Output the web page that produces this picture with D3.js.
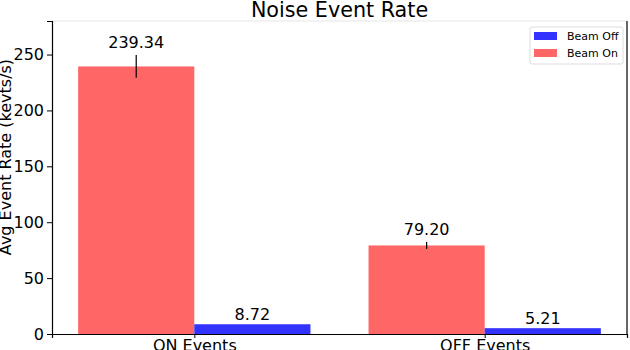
<!DOCTYPE html>
<html>
<head>
<meta charset="utf-8">
<script src="https://cdn.jsdelivr.net/npm/d3@7"></script>
<style>
	body { margin: 0; background: #fff; }
	svg { display: block; font-family: "DejaVu Sans", sans-serif; }
</style>
</head>
<body>
<svg id="chart" width="630" height="350"></svg>
<script>
// Datos
var categories = ["ON Events", "OFF Events"];
var beamOn = [239.34, 79.20];
var beamOnErr = [10.2, 3.1];
var beamOff = [8.72, 5.21];
var beamOffErr = [0, 0];
var yTicks = [0, 50, 100, 150, 200, 250];

var width = 630,
	height = 350,
	margin = { top: 21, right: 3, bottom: 16, left: 52 },
	innerW = width - margin.left - margin.right,
	innerH = height - margin.top - margin.bottom,
	barW = 0.4;

var svg = d3.select("#chart");
var g = svg.append("g")
	.attr("transform", "translate(" + margin.left + "," + margin.top + ")");

var x = d3.scaleLinear().domain([-0.49, 1.49]).range([0, innerW]);
var y = d3.scaleLinear().domain([0, 280]).range([innerH, 0]);

var series = [
	{ name: "Beam On", color: "#ff6666", values: beamOn, err: beamOnErr, offset: -barW },
	{ name: "Beam Off", color: "#3333ff", values: beamOff, err: beamOffErr, offset: 0 }
];

// barras
series.forEach(function(s) {
	var grp = g.append("g");

	grp.selectAll("rect")
		.data(s.values)
		.enter().append("rect")
		.attr("x", function(d, i) { return x(i + s.offset); })
		.attr("width", x(barW) - x(0))
		.attr("y", function(d) { return y(d); })
		.attr("height", function(d) { return y(0) - y(d); })
		.attr("fill", s.color);

	grp.selectAll("line.err")
		.data(s.values)
		.enter().filter(function(d, i) { return s.err[i] > 0; })
		.append("line")
		.attr("class", "err")
		.attr("x1", function(d, i) { return x(i + s.offset + barW / 2); })
		.attr("x2", function(d, i) { return x(i + s.offset + barW / 2); })
		.attr("y1", function(d, i) { return y(d - s.err[i]); })
		.attr("y2", function(d, i) { return y(d + s.err[i]); })
		.attr("stroke", "#000")
		.attr("stroke-width", 1.2);

	grp.selectAll("text")
		.data(s.values)
		.enter().append("text")
		.attr("x", function(d, i) { return x(i + s.offset + barW / 2); })
		.attr("y", function(d, i) {
			return s.err[i] > 0 ? y(d + s.err[i]) - 7 : y(d) - 4;
		})
		.attr("text-anchor", "middle")
		.attr("font-size", 16)
		.attr("fill", "#000")
		.text(function(d) { return d.toFixed(2); });
});

// ejes
g.append("line")
	.attr("x1", 0).attr("x2", innerW)
	.attr("y1", 0).attr("y2", 0)
	.attr("stroke", "#eeeeee").attr("stroke-width", 1.5);
g.append("line")
	.attr("x1", innerW).attr("x2", innerW)
	.attr("y1", 0).attr("y2", innerH)
	.attr("stroke", "#000").attr("stroke-width", 1.2);

var yAxis = g.append("g")
	.call(d3.axisLeft(y).tickValues(yTicks).tickSize(5).tickPadding(3));
var xAxis = g.append("g")
	.attr("transform", "translate(0," + innerH + ")")
	.call(d3.axisBottom(x).tickValues([0, 1]).tickSize(4).tickPadding(2)
		.tickFormat(function(d) { return categories[d]; }));

[yAxis, xAxis].forEach(function(a) {
	a.select(".domain").attr("stroke", "#000").attr("stroke-width", 1.2);
	a.selectAll(".tick line").attr("stroke", "#000");
	a.selectAll(".tick text")
		.attr("font-family", "DejaVu Sans, sans-serif")
		.attr("font-size", 16)
		.attr("fill", "#000");
});

// titulos
svg.append("text")
	.attr("x", margin.left + innerW / 2)
	.attr("y", 17)
	.attr("text-anchor", "middle")
	.attr("font-size", 20.7)
	.text("Noise Event Rate");

svg.append("text")
	.attr("transform", "translate(11,157) rotate(-90)")
	.attr("text-anchor", "middle")
	.attr("font-size", 16)
	.text("Avg Event Rate (kevts/s)");

// leyenda
var legend = svg.append("g").attr("transform", "translate(530,27)");
legend.append("rect")
	.attr("width", 93).attr("height", 37)
	.attr("rx", 2)
	.attr("fill", "#fff")
	.attr("stroke", "#dddddd");

var legendItems = [series[1], series[0]];
legendItems.forEach(function(s, i) {
	legend.append("rect")
		.attr("x", 4).attr("y", 5 + i * 17)
		.attr("width", 23).attr("height", 8)
		.attr("fill", s.color);
	legend.append("text")
		.attr("x", 37).attr("y", 13 + i * 17)
		.attr("font-size", 11)
		.text(s.name);
});
</script>
</body>
</html>
